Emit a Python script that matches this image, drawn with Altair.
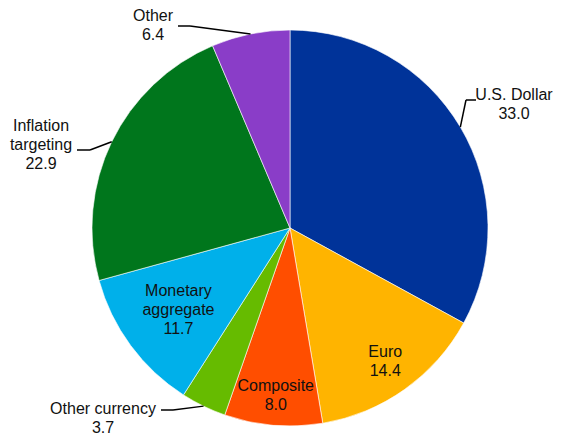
import altair as alt
import pandas as pd

# ---- data ----
categories = ["U.S. Dollar", "Euro", "Composite", "Other currency",
              "Monetary aggregate", "Inflation targeting", "Other"]
shares = [33.0, 14.4, 8.0, 3.7, 11.7, 22.9, 6.4]
label_text = ["U.S. Dollar", "Euro", "Composite", "Other currency",
              "Monetary\naggregate", "Inflation\ntargeting", "Other"]
colors = ["#003399", "#FFB400", "#FF4E00", "#66BB00", "#00B0EA", "#00761C", "#8A3DC8"]

# ---- layout (styling, not data) ----
CX, CY, R = 282, 220, 198
LH = 19
inside_r = [None, 0.83, 0.85, None, 0.70, None, None]        # radius factor of inside labels
text_dx = [224, None, None, -187, None, -249, -137]          # outside label offsets from centre
text_dy = [-124, None, None, 190, None, -83, -203]
elbow_dx = [176, None, None, -117, None, -200, -100]
elbow_dy = [-128, None, None, 182, None, -78, -202]
end_dx = [186, None, None, -129, None, -213, -112]

df = pd.DataFrame({
    "idx": list(range(len(categories))),
    "category": categories,
    "value": shares,
    "lab": label_text,
    "rin": inside_r,
    "tdx": text_dx,
    "tdy": text_dy,
    "edx": elbow_dx,
    "edy": elbow_dy,
    "ndx": end_dx,
})

base = alt.Chart(df).transform_joinaggregate(
    total="sum(value)"
).transform_window(
    cum="sum(value)", sort=[alt.SortField("idx")], frame=[None, 0]
).transform_calculate(
    ang="2*PI*(datum.cum - datum.value/2)/datum.total",
)

pie = alt.Chart(df).mark_arc(radius=R, stroke="white", strokeWidth=0.6).encode(
    theta=alt.Theta("value:Q", stack=True),
    order=alt.Order("idx:Q"),
    color=alt.Color("category:N", scale=alt.Scale(domain=categories, range=colors), legend=None),
    x=alt.value(CX),
    y=alt.value(CY),
)

pos = base.transform_calculate(
    txt="datum.lab + '\\n' + format(datum.value, '.1f')",
).transform_calculate(
    nl="length(split(datum.txt, '\\n'))",
    ex=f"{CX} + {R}*sin(datum.ang)",
    ey=f"{CY} - {R}*cos(datum.ang)",
    tx=f"isValid(datum.tdx) ? {CX} + datum.tdx : {CX} + {R}*datum.rin*sin(datum.ang)",
    ty0=f"isValid(datum.tdy) ? {CY} + datum.tdy : {CY} - {R}*datum.rin*cos(datum.ang)",
    bx=f"{CX} + datum.edx",
    by=f"{CY} + datum.edy",
    nx=f"{CX} + datum.ndx",
).transform_calculate(
    ty=f"datum.ty0 - (datum.nl - 1)*{LH}/2",
)

texts = pos.mark_text(
    font="Liberation Sans", fontSize=16, lineHeight=LH, lineBreak="\n",
    align="center", baseline="middle", color="#111111",
).encode(
    x=alt.X("tx:Q", scale=None, axis=None),
    y=alt.Y("ty:Q", scale=None, axis=None),
    text="txt:N",
)

outside = pos.transform_filter("isValid(datum.edx)")
lead1 = outside.mark_rule(color="black", strokeWidth=1.5).encode(
    x=alt.X("ex:Q", scale=None, axis=None),
    y=alt.Y("ey:Q", scale=None, axis=None),
    x2="bx:Q",
    y2="by:Q",
)
lead2 = outside.mark_rule(color="black", strokeWidth=1.5).encode(
    x=alt.X("bx:Q", scale=None, axis=None),
    y=alt.Y("by:Q", scale=None, axis=None),
    x2="nx:Q",
    y2="by:Q",
)

chart = alt.layer(pie, lead1, lead2, texts).properties(
    width=545, height=432, autosize=alt.AutoSizeParams(type="none"), padding=0,
).configure_view(stroke=None)

chart.save("out.html", embed_options={"renderer": "svg", "actions": False})
